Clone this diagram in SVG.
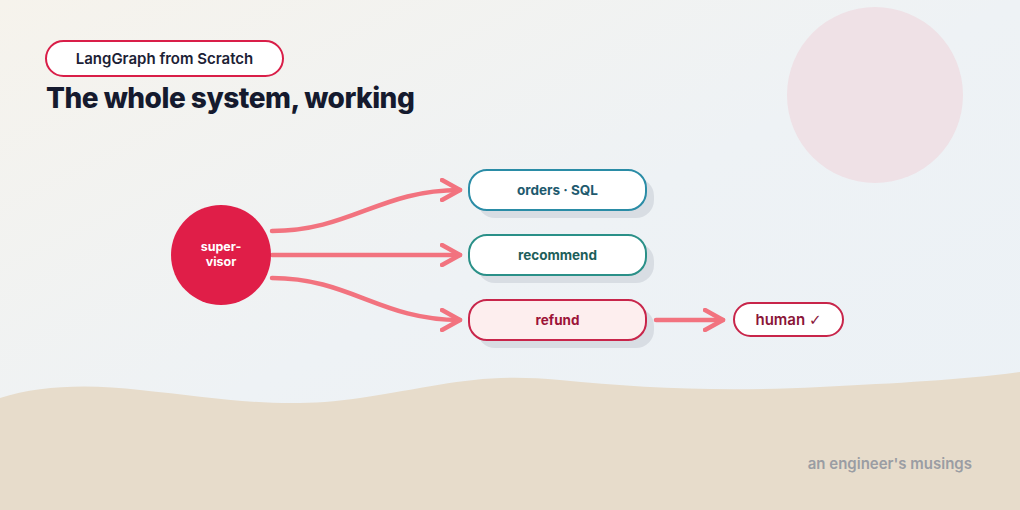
<svg xmlns="http://www.w3.org/2000/svg" width="1020" height="510" viewBox="0 0 1020 510">
<defs>
<linearGradient id="bg" x1="0" y1="0" x2="1" y2="1">
<stop offset="0" stop-color="#f6f3ec"/>
<stop offset="0.5" stop-color="#eef2f5"/>
<stop offset="1" stop-color="#ebf1f6"/>
</linearGradient>
<marker id="chev" viewBox="0 0 24 24" refX="20" refY="12" markerWidth="24" markerHeight="24" markerUnits="userSpaceOnUse" orient="auto">
<path d="M2 2 L20 12 L2 22" fill="none" stroke="#f2737f" stroke-width="4.5" stroke-linecap="round" stroke-linejoin="round"/>
</marker>
<style>
text{font-family:Inter,"Noto Sans","Liberation Sans",sans-serif}
.edge{fill:none;stroke:#f2737f;stroke-width:4.5;stroke-linecap:round;marker-end:url(#chev)}
.shadow{fill:#d8dde3}
.lbl{font-size:13.5px;font-weight:700;text-anchor:middle}
</style>
</defs>
<rect width="1020" height="510" fill="url(#bg)"/>
<circle cx="875" cy="95" r="88" fill="#efe1e6"/>
<path d="M0 398 C40 385 90 384 140 390 C220 398 280 410 360 398 C440 386 480 372 560 380 C640 388 720 392 820 387 C900 383 960 380 1020 372 L1020 510 L0 510 Z" fill="#e7dccb"/>
<g id="tag">
<rect x="46" y="41" width="237" height="35" rx="17.5" fill="#ffffff" stroke="#d91e48" stroke-width="2"/>
<text x="164.5" y="64" font-size="15" font-weight="600" fill="#1c2135" text-anchor="middle">LangGraph from Scratch</text>
</g>
<text id="title" x="46" y="108" font-size="28" font-weight="800" fill="#151a2e" letter-spacing="-0.5">The whole system, working</text>
<g id="connectors">
<path class="edge" d="M272 231 C350 231 380 190 460 190"/>
<path class="edge" d="M272 255 L460 255"/>
<path class="edge" d="M272 278 C350 278 380 320 460 320"/>
<path class="edge" d="M656 320 L723 320"/>
</g>
<g id="supervisor">
<circle cx="221" cy="255" r="50" fill="#e01e48"/>
<text x="221" y="251" font-size="12.5" font-weight="700" fill="#ffffff" text-anchor="middle">super-</text>
<text x="221" y="266" font-size="12.5" font-weight="700" fill="#ffffff" text-anchor="middle">visor</text>
</g>
<g id="orders">
<rect class="shadow" x="477" y="178" width="177" height="40" rx="18"/>
<rect x="469" y="170" width="177" height="40" rx="18" fill="#ffffff" stroke="#2a8ca6" stroke-width="2"/>
<text class="lbl" x="557.5" y="195" fill="#1e5a6e">orders · SQL</text>
</g>
<g id="recommend">
<rect class="shadow" x="477" y="243" width="177" height="40" rx="18"/>
<rect x="469" y="235" width="177" height="40" rx="18" fill="#ffffff" stroke="#2a9088" stroke-width="2"/>
<text class="lbl" x="557.5" y="260" fill="#1d5e5a">recommend</text>
</g>
<g id="refund">
<rect class="shadow" x="477" y="308" width="177" height="40" rx="18"/>
<rect x="469" y="300" width="177" height="40" rx="18" fill="#fdeeee" stroke="#c8254a" stroke-width="2"/>
<text class="lbl" x="557.5" y="325" fill="#9c1438">refund</text>
</g>
<g id="human">
<rect x="734" y="303" width="109" height="33" rx="16.5" fill="#ffffff" stroke="#c8254a" stroke-width="2"/>
<text x="788.5" y="325" font-size="15" font-weight="600" fill="#8a1538" text-anchor="middle">human <tspan font-family="'DejaVu Sans',sans-serif" font-weight="700">✓</tspan></text>
</g>
<text id="footer" x="972" y="469" font-size="15" font-weight="600" fill="#9a9da3" text-anchor="end">an engineer's musings</text>
</svg>
